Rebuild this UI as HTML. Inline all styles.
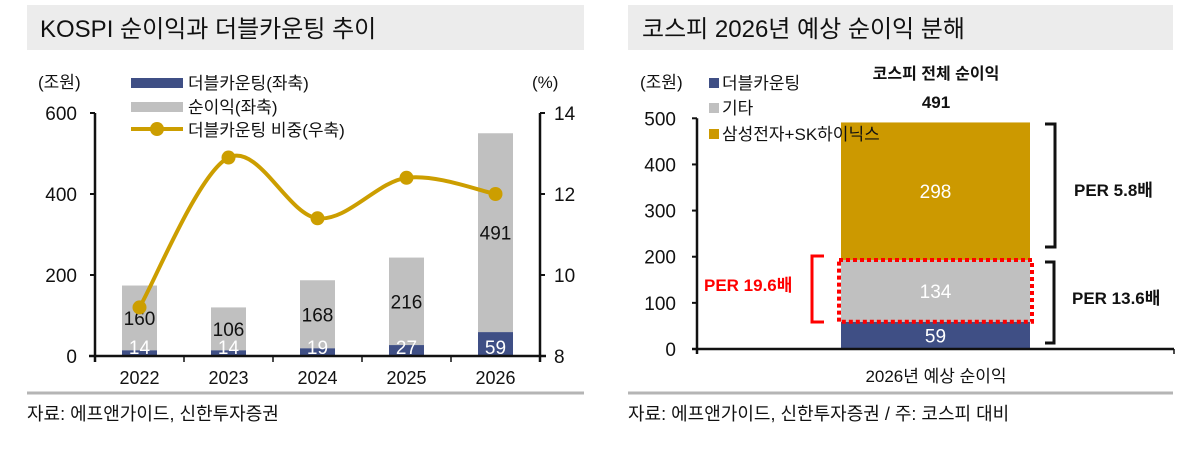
<!DOCTYPE html>
<html><head><meta charset="utf-8"><style>
body{margin:0;background:#fff;width:1195px;height:448px;overflow:hidden;font-family:"Liberation Sans","Noto Sans CJK KR",sans-serif}
svg text{font-family:"Liberation Sans","Noto Sans CJK KR",sans-serif}
</style></head><body>
<svg id="c" width="1195" height="448">
<rect x="27" y="5" width="557" height="45" fill="#ececec"/>
<text x="40" y="37" font-size="24" fill="#111">KOSPI 순이익과 더블카운팅 추이</text>
<rect x="628" y="5" width="545" height="45" fill="#ececec"/>
<text x="642" y="37" font-size="24" fill="#111">코스피 2026년 예상 순이익 분해</text>
<line x1="27" y1="393" x2="584" y2="393" stroke="#b5b5b5" stroke-width="3"/>
<line x1="628" y1="393" x2="1173" y2="393" stroke="#b5b5b5" stroke-width="3"/>
<text x="27" y="420" font-size="18" fill="#111">자료: 에프앤가이드, 신한투자증권</text>
<text x="628" y="420" font-size="18" fill="#111">자료: 에프앤가이드, 신한투자증권 / 주: 코스피 대비</text>
<g id="L"></g><g id="R"></g>
</svg>
<script>
const years=["2022","2023","2024","2025","2026"];
const doubleCount=[14,14,19,27,59];
const netIncome=[160,106,168,216,491];
const sharePct=[9.2,12.9,11.4,12.4,12.0];
const leftTicks=[0,200,400,600];
const rightTicks=[8,10,12,14];
const rParts=[59,134,298];
const rTicks=[0,100,200,300,400,500];
const rTotal=491;

const NS="http://www.w3.org/2000/svg";
function mk(p,t,a,txt){const e=document.createElementNS(NS,t);for(const k in a)e.setAttribute(k,a[k]);if(txt!==undefined)e.textContent=txt;p.appendChild(e);return e;}
const L=document.getElementById('L'),R=document.getElementById('R');
// left axes
const x0=95,x1=540,y0=356,yTop=113;
const yL=v=>y0-(v/600)*(y0-yTop);
const yR=v=>y0-((v-8)/6)*(y0-yTop);
const step=(x1-x0)/years.length;
const xC=i=>x0+step*(i+0.5);
years.forEach((y,i)=>{
  const tot=doubleCount[i]+netIncome[i];
  let r=mk(L,'rect',{x:xC(i)-17.5,y:yL(tot),width:35,height:yL(doubleCount[i])-yL(tot),fill:'#c0c0c0'});
  
  r=mk(L,'rect',{x:xC(i)-17.5,y:yL(doubleCount[i]),width:35,height:y0-yL(doubleCount[i]),fill:'#3f4f85'});
  
  let t=mk(L,'text',{x:xC(i),y:(yL(tot)+yL(doubleCount[i]))/2+7,'font-size':19,'text-anchor':'middle',fill:'#111'},netIncome[i]);
  
  t=mk(L,'text',{x:xC(i),y:y0-2,'font-size':19,'text-anchor':'middle',fill:'#fff'},doubleCount[i]);
  
  t=mk(L,'text',{x:xC(i),y:384,'font-size':18,'text-anchor':'middle',fill:'#111'},y);
  
  const tk=mk(L,'line',{x1:x0+step*(i+1),x2:x0+step*(i+1),y1:y0,y2:y0+6,stroke:'#111','stroke-width':1.5});
  
});
let a=mk(L,'line',{x1:x0,y1:yTop,x2:x0,y2:y0+6,stroke:'#111','stroke-width':2.5});
a=mk(L,'line',{x1:x1,y1:yTop,x2:x1,y2:y0+6,stroke:'#111','stroke-width':2.5});
a=mk(L,'line',{x1:x0-6,y1:y0,x2:x1+6,y2:y0,stroke:'#111','stroke-width':2.5});
leftTicks.forEach(v=>{const t=mk(L,'text',{x:77,y:yL(v)+7,'font-size':19,'text-anchor':'end',fill:'#111'},v);
 mk(L,'line',{x1:x0-5,x2:x0,y1:yL(v),y2:yL(v),stroke:'#111','stroke-width':2});});
rightTicks.forEach(v=>{const t=mk(L,'text',{x:554,y:yR(v)+7,'font-size':19,fill:'#111'},v);
 mk(L,'line',{x1:x1,x2:x1+5,y1:yR(v),y2:yR(v),stroke:'#111','stroke-width':2});});
// smooth line
const pts=sharePct.map((v,i)=>[xC(i),yR(v)]);
let d='M'+pts[0][0]+','+pts[0][1];
for(let i=0;i<pts.length-1;i++){const p0=pts[Math.max(0,i-1)],p1=pts[i],p2=pts[i+1],p3=pts[Math.min(pts.length-1,i+2)];
 d+=` C${p1[0]+(p2[0]-p0[0])/6},${p1[1]+(p2[1]-p0[1])/6} ${p2[0]-(p3[0]-p1[0])/6},${p2[1]-(p3[1]-p1[1])/6} ${p2[0]},${p2[1]}`;}
const ln=mk(L,'path',{d:d,fill:'none',stroke:'#cc9e00','stroke-width':4});

pts.forEach((p,i)=>{const c=mk(L,'circle',{cx:p[0],cy:p[1],r:7,fill:'#cc9e00'});});
// left legend & units
[['(조원)',38,88,'left-unit'],['(%)',532,88,'right-unit']].forEach(q=>{const t=mk(L,'text',{x:q[1],y:q[2],'font-size':17,fill:'#111'},q[0]);});
let s=mk(L,'rect',{x:131,y:78,width:52,height:10,fill:'#3f4f85'});
s=mk(L,'rect',{x:131,y:102,width:52,height:10,fill:'#c0c0c0'});
s=mk(L,'line',{x1:131,x2:183,y1:129,y2:129,stroke:'#cc9e00','stroke-width':4});
mk(L,'circle',{cx:157,cy:129,r:7,fill:'#cc9e00'});
[['더블카운팅(좌축)',89,'legend-double'],['순이익(좌축)',113,'legend-net'],['더블카운팅 비중(우축)',136,'legend-share']].forEach(q=>{const t=mk(L,'text',{x:188,y:q[1],'font-size':17,fill:'#111'},q[0]);});

// right chart
const rx0=697,rx1=1174,ry0=349,ryTop=118.3;
const yB=v=>ry0-(v/500)*(ry0-ryTop);
const bx=841,bw=189;
const cols=['#3f4f85','#c0c0c0','#cc9900'],pn=['double-count','other','samsung-hynix'],tc=['#fff','#fff','#fff'];
let acc=0;
rParts.forEach((v,i)=>{const r=mk(R,'rect',{x:bx,y:yB(acc+v),width:bw,height:yB(acc)-yB(acc+v),fill:cols[i]});
 
 const t=mk(R,'text',{x:bx+bw/2,y:(yB(acc)+yB(acc+v))/2+7,'font-size':19,'text-anchor':'middle',fill:tc[i]},v);
 acc+=v;});
a=mk(R,'line',{x1:rx0,y1:ryTop,x2:rx0,y2:ry0+5,stroke:'#111','stroke-width':2.5});
a=mk(R,'line',{x1:rx0-5,y1:ry0,x2:rx1,y2:ry0,stroke:'#111','stroke-width':2.5});
mk(R,'line',{x1:rx1,x2:rx1,y1:ry0,y2:ry0+5,stroke:'#111','stroke-width':1.5});
rTicks.forEach(v=>{const t=mk(R,'text',{x:676,y:yB(v)+7,'font-size':19,'text-anchor':'end',fill:'#111'},v);
 mk(R,'line',{x1:rx0-5,x2:rx0,y1:yB(v),y2:yB(v),stroke:'#111','stroke-width':2});});
const bd=mk(R,'rect',{x:bx-2,y:yB(rParts[0]+rParts[1]),width:bw+4,height:yB(rParts[0])-yB(rParts[0]+rParts[1]),fill:'none',stroke:'#ff0000','stroke-width':4,'stroke-dasharray':'4,3'});

let br=mk(R,'path',{d:'M824,256 H812 V322 H824',fill:'none',stroke:'#ff0000','stroke-width':3});
br=mk(R,'path',{d:'M1045,124 H1055 V247 H1045',fill:'none',stroke:'#111','stroke-width':3});
br=mk(R,'path',{d:'M1045,262 H1054 V343 H1045',fill:'none',stroke:'#111','stroke-width':3});
[['PER 19.6배',704,291,'#ff0000','per-19-6'],['PER 5.8배',1074,196,'#111','per-5-8'],['PER 13.6배',1072,304,'#111','per-13-6']].forEach(q=>{const t=mk(R,'text',{x:q[1],y:q[2],'font-size':17,'font-weight':'bold',fill:q[3]},q[0]);});
let t=mk(R,'text',{x:936,y:79,'font-size':16,'font-weight':'bold','text-anchor':'middle',fill:'#111'},'코스피 전체 순이익');
t=mk(R,'text',{x:936,y:108,'font-size':17,'font-weight':'bold','text-anchor':'middle',fill:'#111'},rTotal);
t=mk(R,'text',{x:640,y:88,'font-size':17,fill:'#111'},'(조원)');
t=mk(R,'text',{x:936,y:382,'font-size':17,'text-anchor':'middle',fill:'#111'},'2026년 예상 순이익');
[['더블카운팅',0,89],['기타',1,114],['삼성전자+SK하이닉스',2,140]].forEach((q,i)=>{
 const r=mk(R,'rect',{x:709,y:q[2]-11,width:10,height:10,fill:cols[q[1]]});
 const tt=mk(R,'text',{x:722,y:q[2],'font-size':17,fill:'#111'},q[0]);});
</script>
</body></html>
